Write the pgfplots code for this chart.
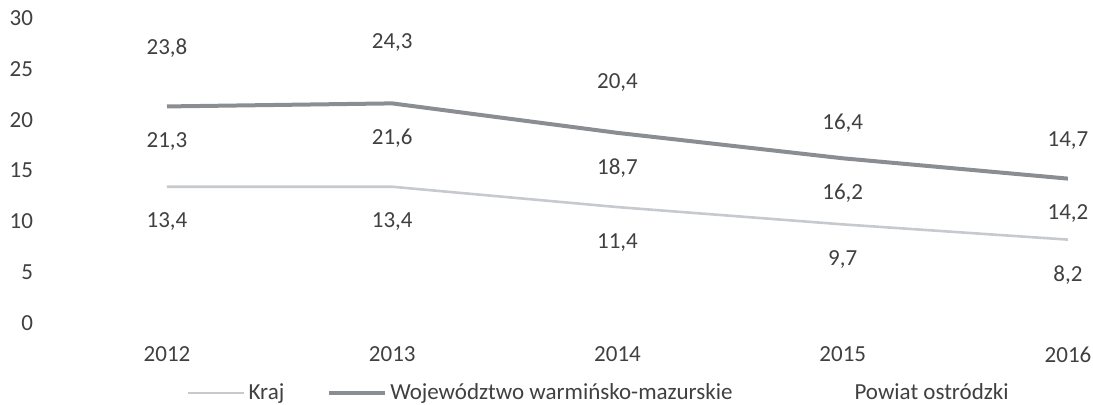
\documentclass[border=0pt]{standalone}
\usepackage{fontspec}
\setmainfont{Carlito}
\usepackage{pgfplots}
\pgfplotsset{compat=1.18}
\definecolor{txt}{HTML}{404040}
\definecolor{kraj}{HTML}{C6C9CD}
\definecolor{woj}{HTML}{8A8D91}
\begin{document}
\fontsize{11.5}{13.8}\selectfont
\begin{tikzpicture}[font=\fontsize{11.5}{13.8}\selectfont, text=txt]
\begin{axis}[
  at={(0,0)}, anchor=south west,
  scale only axis,
  width=450.5pt, height=152.5pt,
  xmin=2012, xmax=2016, ymin=0, ymax=30,
  axis line style={draw=none},
  major tick length=0pt,
  xtick={2012,2013,2014,2015,2016},
  xticklabels={2012,2013,2014,2015,2016},
  ytick={0,5,10,15,20,25,30},
  /pgf/number format/assume math mode=true,
  yticklabel style={anchor=east, xshift=-63pt, text=txt},
  xticklabel style={anchor=north, yshift=-8pt, text=txt},
  nodes near coords={\pgfmathprintnumber[fixed,fixed zerofill,precision=1,use comma,assume math mode=true]{\pgfplotspointmeta}},
  legend image code/.code={\draw[#1] (0pt,0pt) -- (28pt,0pt);},
  legend columns=3,
  legend style={draw=none, fill=none, inner sep=0pt, outer sep=0pt,
    at={(axis description cs:0,0)}, anchor=west, xshift=10pt, yshift=-35pt,
    nodes={inner sep=1.5pt, text=txt},
    /tikz/every even column/.append style={column sep=20pt}},
]
\addplot[color=kraj, line width=1.3pt, mark=none,
  every node near coord/.append style={anchor=center, yshift=-17.5pt, text=txt}]
  coordinates {(2012,13.4) (2013,13.4) (2014,11.4) (2015,9.7) (2016,8.2)};
\addlegendentry{Kraj}
\addplot[color=woj, line width=2pt, mark=none,
  every node near coord/.append style={anchor=center, yshift=-17.5pt, text=txt}]
  coordinates {(2012,21.3) (2013,21.6) (2014,18.7) (2015,16.2) (2016,14.2)};
\addlegendentry{Województwo warmińsko-mazurskie}
\addplot[draw=none, mark=none,
  legend image code/.code={\path (0pt,0pt) -- (38pt,0pt);},
  every node near coord/.append style={anchor=center, yshift=16.5pt, text=txt}]
  coordinates {(2012,23.8) (2013,24.3) (2014,20.4) (2015,16.4) (2016,14.7)};
\addlegendentry{Powiat ostródzki}
\end{axis}
\pgfresetboundingbox
\path (-83.5pt,-41pt) rectangle (463pt,161.5pt);
\end{tikzpicture}
\end{document}
